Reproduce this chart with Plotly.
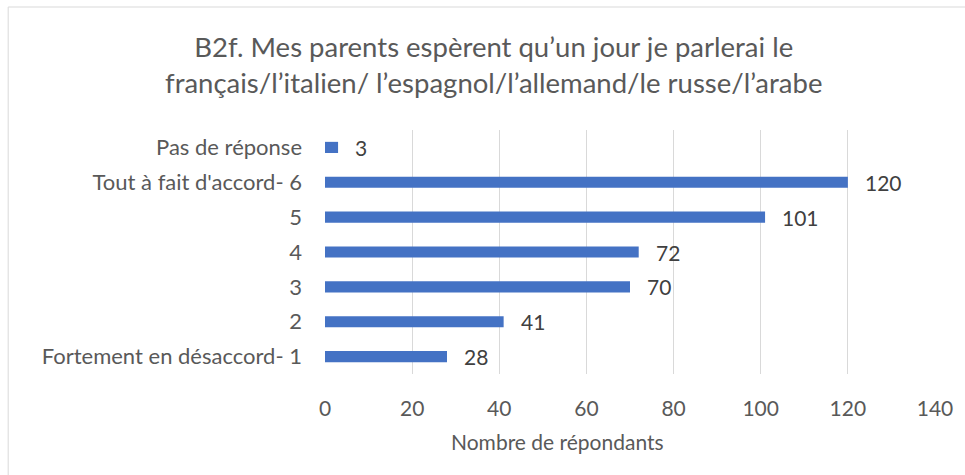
import plotly.graph_objects as go

categories = ["Fortement en désaccord- 1", "2", "3", "4", "5", "Tout à fait d'accord- 6", "Pas de réponse"]
values = [28, 41, 70, 72, 101, 120, 3]
x_ticks = [0, 20, 40, 60, 80, 100, 120, 140]
title_lines = ["B2f. Mes parents espèrent qu’un jour je parlerai le",
               "français/l’italien/ l’espagnol/l’allemand/le russe/l’arabe"]
x_title = "Nombre de répondants"

FONT = "Lato"
W, H = 965, 475
L, R, T, B = 325, 20, 130, 101

fig = go.Figure()
fig.add_trace(go.Bar(
    y=list(range(len(categories))), x=values, orientation="h",
    marker=dict(color="#4472C4", line=dict(width=0)),
    width=0.32, hoverinfo="skip",
))

for i, v in enumerate(values):
    fig.add_annotation(x=v, y=i, xref="x", yref="y", text=str(v), showarrow=False,
                       xanchor="left", xshift=15, yshift=0,
                       font=dict(family=FONT, size=21, color="#404040"))

pw = W - L - R
ph = H - T - B
def px(x):
    return (x - L) / pw
def py(y):
    return (H - B - y) / ph

fig.add_annotation(x=px(496), y=py(64), xref="paper", yref="paper",
                   text="<br>".join(title_lines), showarrow=False,
                   xanchor="center", yanchor="middle",
                   font=dict(family=FONT, size=27.5, color="#595959"))
fig.add_annotation(x=px(561), y=py(441), xref="paper", yref="paper",
                   text=x_title, showarrow=False, xanchor="center", yanchor="middle",
                   font=dict(family=FONT, size=21, color="#595959"))

fig.add_shape(type="rect", xref="paper", yref="paper",
              x0=px(3), x1=px(990), y0=py(7), y1=py(500),
              line=dict(color="#D9D9D9", width=1), fillcolor="rgba(0,0,0,0)", layer="below")

fig.update_layout(
    width=W, height=H,
    margin=dict(l=L, r=R, t=T, b=B, pad=0),
    paper_bgcolor="white", plot_bgcolor="white",
    showlegend=False,
    font=dict(family=FONT, color="#595959"),
    xaxis=dict(range=[0, 140], tickvals=x_ticks, showgrid=True, gridcolor="#D9D9D9",
               gridwidth=1, zeroline=False, showline=False, ticks="",
               tickfont=dict(family=FONT, size=21, color="#595959"),
               ticklabelstandoff=20, fixedrange=True),
    yaxis=dict(range=[-0.5, 6.5], tickvals=list(range(len(categories))), ticktext=categories,
               showgrid=False, zeroline=False, showline=False, ticks="",
               tickfont=dict(family=FONT, size=22, color="#595959"),
               ticklabelstandoff=22, fixedrange=True),
)

fig.write_html("out.html", config=dict(displayModeBar=False),
               post_script="document.body.style.margin='0';document.body.style.overflow='hidden';")
